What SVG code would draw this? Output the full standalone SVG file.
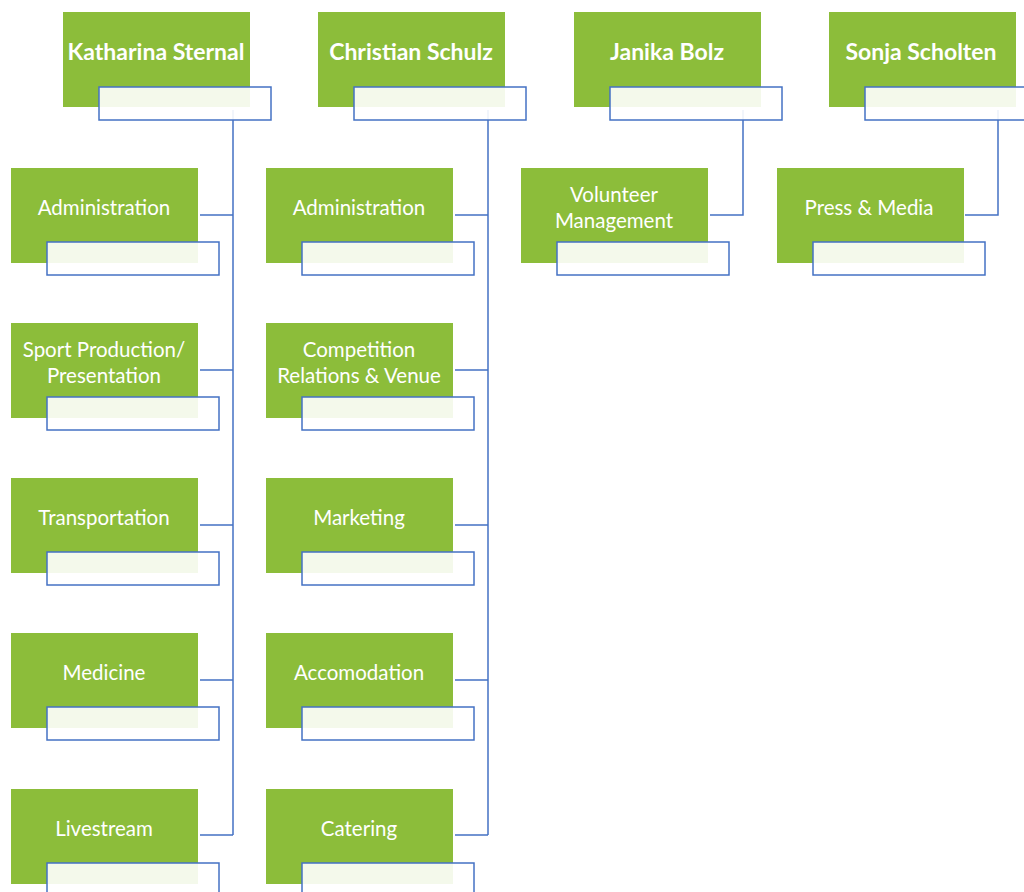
<svg xmlns="http://www.w3.org/2000/svg" width="1024" height="892" viewBox="0 0 1024 892">
<style>
.g{fill:#8cbd3a}
.lb{fill:#ffffff;fill-opacity:0.9;stroke:#4472c4;stroke-width:1.5}
.t{font-family:Lato,"Open Sans","Liberation Sans",sans-serif;font-size:20.5px;fill:#ffffff;text-anchor:middle}
.h{font-family:Lato,"Open Sans","Liberation Sans",sans-serif;font-size:23px;font-weight:bold;fill:#ffffff;text-anchor:middle}
.c{fill:none;stroke:#4472c4;stroke-width:1.5}
</style>
<rect width="1024" height="892" fill="#ffffff"/>
<g id="connectors">
<path class="c" d="M233,110 V835 M200,215 H233 M200,370 H233 M200,525 H233 M200,680 H233 M200,835 H233"/>
<path class="c" d="M488,110 V835 M455,215 H488 M455,370 H488 M455,525 H488 M455,680 H488 M455,835 H488"/>
<path class="c" d="M743,110 V215 H710"/>
<path class="c" d="M998,110 V215 H965"/>
</g>
<g id="katharina"><rect class="g" x="63" y="12" width="187" height="95"/><rect class="lb" x="99" y="87" width="172" height="33"/><text class="h" x="156" y="60">Katharina Sternal</text></g>
<g id="christian"><rect class="g" x="318" y="12" width="187" height="95"/><rect class="lb" x="354" y="87" width="172" height="33"/><text class="h" x="411" y="60">Christian Schulz</text></g>
<g id="janika"><rect class="g" x="574" y="12" width="187" height="95"/><rect class="lb" x="610" y="87" width="172" height="33"/><text class="h" x="667" y="60">Janika Bolz</text></g>
<g id="sonja"><rect class="g" x="829" y="12" width="187" height="95"/><rect class="lb" x="865" y="87" width="172" height="33"/><text class="h" x="921" y="60">Sonja Scholten</text></g>

<g id="k-admin"><rect class="g" x="11" y="168" width="187" height="95"/><rect class="lb" x="47" y="242" width="172" height="33"/><text class="t" x="104" y="215">Administration</text></g>
<g id="k-sport"><rect class="g" x="11" y="323" width="187" height="95"/><rect class="lb" x="47" y="397" width="172" height="33"/><text class="t" x="104" y="357">Sport Production/</text><text class="t" x="104" y="383">Presentation</text></g>
<g id="k-transport"><rect class="g" x="11" y="478" width="187" height="95"/><rect class="lb" x="47" y="552" width="172" height="33"/><text class="t" x="104" y="525">Transportation</text></g>
<g id="k-medicine"><rect class="g" x="11" y="633" width="187" height="95"/><rect class="lb" x="47" y="707" width="172" height="33"/><text class="t" x="104" y="680">Medicine</text></g>
<g id="k-livestream"><rect class="g" x="11" y="789" width="187" height="95"/><rect class="lb" x="47" y="863" width="172" height="33"/><text class="t" x="104" y="836">Livestream</text></g>

<g id="c-admin"><rect class="g" x="266" y="168" width="187" height="95"/><rect class="lb" x="302" y="242" width="172" height="33"/><text class="t" x="359" y="215">Administration</text></g>
<g id="c-competition"><rect class="g" x="266" y="323" width="187" height="95"/><rect class="lb" x="302" y="397" width="172" height="33"/><text class="t" x="359" y="357">Competition</text><text class="t" x="359" y="383">Relations &amp; Venue</text></g>
<g id="c-marketing"><rect class="g" x="266" y="478" width="187" height="95"/><rect class="lb" x="302" y="552" width="172" height="33"/><text class="t" x="359" y="525">Marketing</text></g>
<g id="c-accomodation"><rect class="g" x="266" y="633" width="187" height="95"/><rect class="lb" x="302" y="707" width="172" height="33"/><text class="t" x="359" y="680">Accomodation</text></g>
<g id="c-catering"><rect class="g" x="266" y="789" width="187" height="95"/><rect class="lb" x="302" y="863" width="172" height="33"/><text class="t" x="359" y="836">Catering</text></g>

<g id="j-volunteer"><rect class="g" x="521" y="168" width="187" height="95"/><rect class="lb" x="557" y="242" width="172" height="33"/><text class="t" x="614" y="202">Volunteer</text><text class="t" x="614" y="228">Management</text></g>
<g id="s-press"><rect class="g" x="777" y="168" width="187" height="95"/><rect class="lb" x="813" y="242" width="172" height="33"/><text class="t" x="869" y="215">Press &amp; Media</text></g>
</svg>
